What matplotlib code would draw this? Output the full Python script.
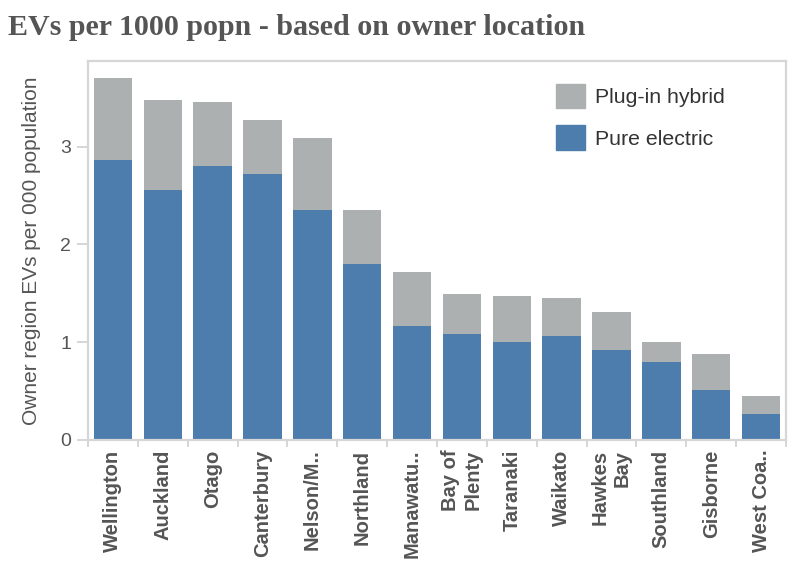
import numpy as np
import matplotlib
matplotlib.use("Agg")
import matplotlib.pyplot as plt
from matplotlib.patches import Patch

# ── data ──────────────────────────────────────────────────────────────────────
regions = ["Wellington", "Auckland", "Otago", "Canterbury", "Nelson/M..",
           "Northland", "Manawatu..", "Bay of\nPlenty", "Taranaki", "Waikato",
           "Hawkes\nBay", "Southland", "Gisborne", "West Coa.."]
pure_electric = [2.86, 2.56, 2.80, 2.72, 2.35, 1.80, 1.17, 1.08, 1.00, 1.06,
                 0.92, 0.80, 0.51, 0.27]
total_evs     = [3.70, 3.48, 3.46, 3.27, 3.09, 2.35, 1.72, 1.49, 1.47, 1.45,
                 1.31, 1.00, 0.88, 0.45]
plug_in_hybrid = [t - p for t, p in zip(total_evs, pure_electric)]

BLUE  = "#4c7dad"
GREY  = "#acb0b1"
TEXT  = "#555555"
FRAME = "#d6d6d6"

plt.rcParams["font.family"] = ["Liberation Sans", "DejaVu Sans"]

fig = plt.figure(figsize=(7.98, 5.79), dpi=100)
ax = fig.add_axes([0.1103, 0.2401, 0.8747, 0.6545])

x = np.arange(len(regions))
ax.bar(x, pure_electric, width=0.77, color=BLUE, zorder=2)
ax.bar(x, plug_in_hybrid, width=0.77, bottom=pure_electric, color=GREY, zorder=2)

ax.set_xlim(-0.5, len(regions) - 0.5)
ax.set_ylim(0, 3.875)

# axes frame
for s in ax.spines.values():
    s.set_color(FRAME)
    s.set_linewidth(1.6)

ax.set_yticks([0, 1, 2, 3])
ax.tick_params(axis="y", length=8, width=1.4, color=FRAME, labelcolor=TEXT,
               labelsize=14, pad=4)

ax.set_xticks(x)
ax.set_xticklabels(regions, rotation=90, fontweight="bold", fontsize=14.5,
                   color=TEXT, va="top", ha="center", multialignment="right")
ax.tick_params(axis="x", which="major", length=0, pad=7)
ax.set_xticks(np.arange(-0.5, len(regions)), minor=True)
ax.tick_params(axis="x", which="minor", length=5, width=1.4, color=FRAME)

ax.set_ylabel("Owner region EVs per 000 population", color=TEXT, fontsize=15,
              labelpad=14)

# legend
handles = [Patch(color=GREY, label="Plug-in hybrid"),
           Patch(color=BLUE, label="Pure electric")]
ax.legend(handles=handles, loc="upper left", bbox_to_anchor=(0.643, 0.99),
          frameon=False, fontsize=15.3, handlelength=1.35, handleheight=1.4,
          handletextpad=0.5, labelspacing=0.8, labelcolor="#333333")

fig.text(0.01, 0.976, "EVs per 1000 popn - based on owner location",
         family=["Liberation Serif", "DejaVu Serif"], fontweight="bold",
         fontsize=21.6, color=TEXT, va="top", ha="left")

fig.savefig("out.png", dpi=100)
